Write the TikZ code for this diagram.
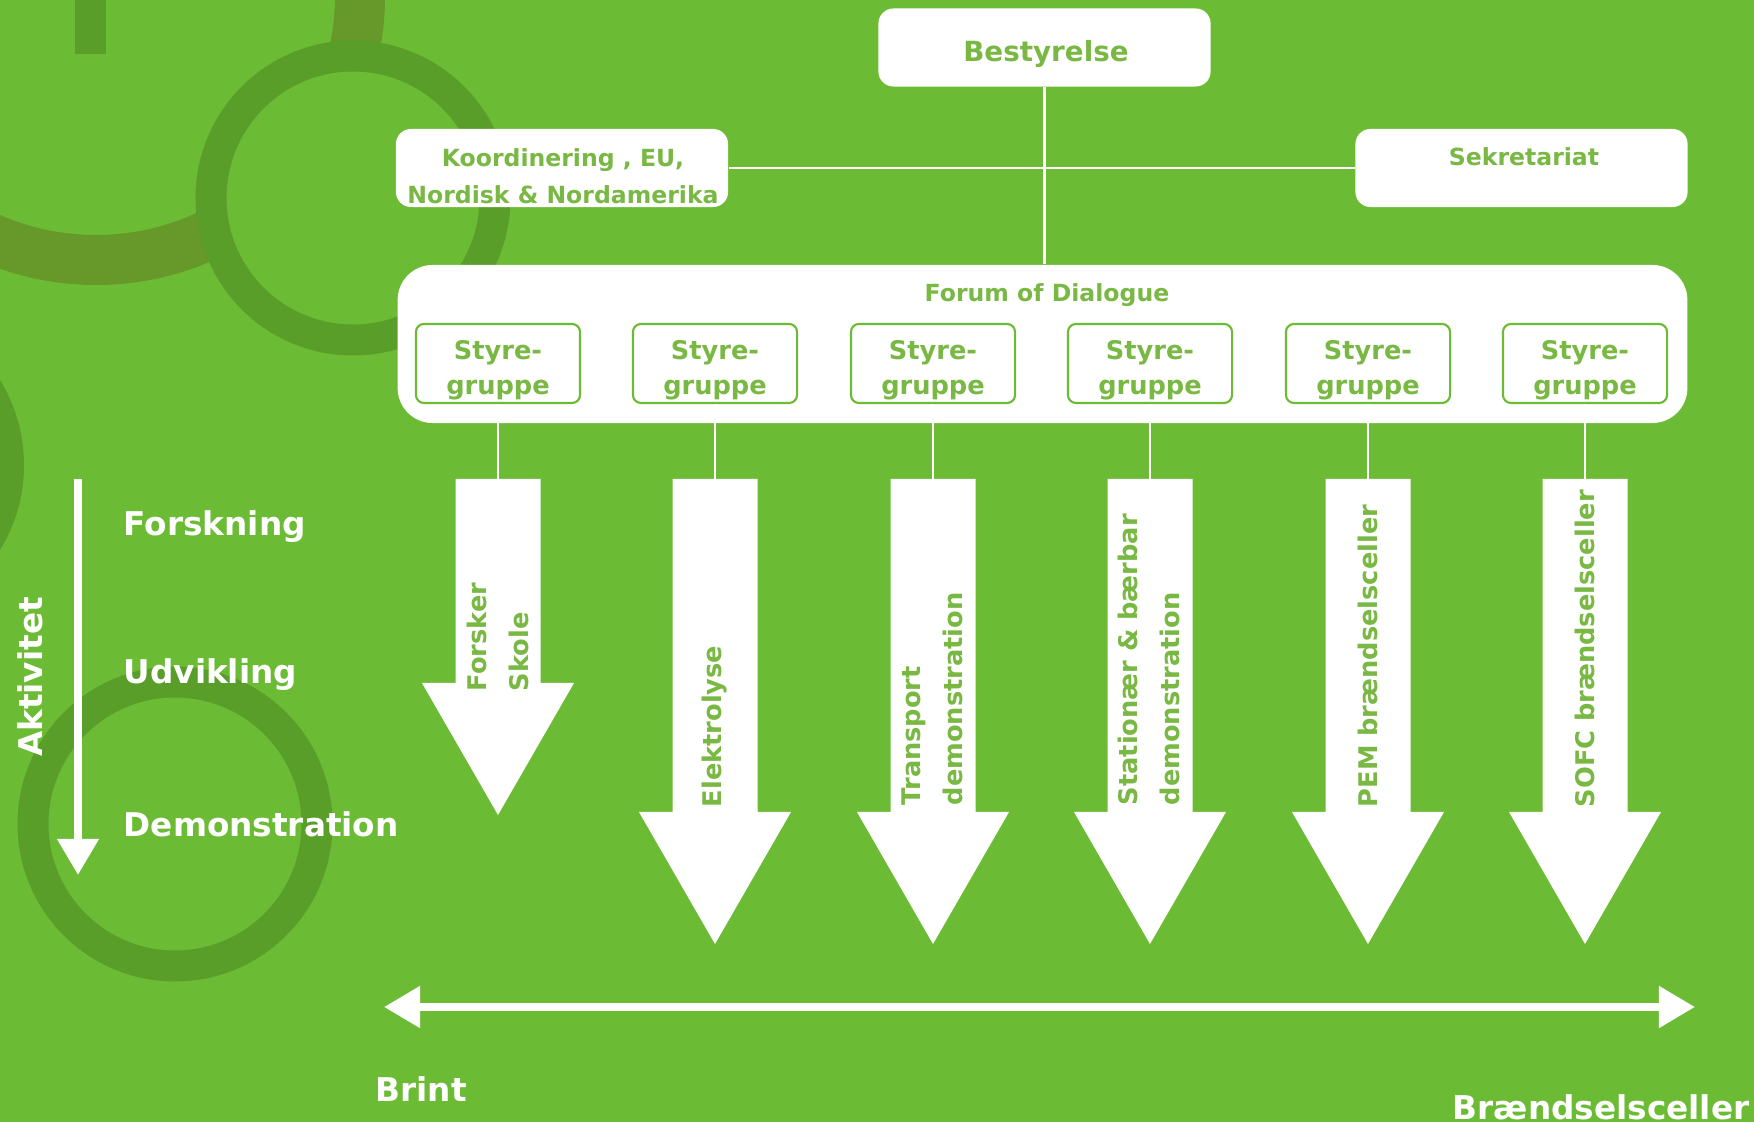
\documentclass[tikz,border=0pt]{standalone}
\usepackage{fontspec}
\setmainfont{DejaVu Sans}
\usetikzlibrary{arrows.meta}
\definecolor{baggrund}{RGB}{108,187,52}
\definecolor{ringfarve}{RGB}{90,158,42}
\definecolor{oliven}{RGB}{103,152,42}
\definecolor{tekstgroen}{RGB}{120,184,67}
\begin{document}
	\begin{tikzpicture}[x=0.01cm, y=-0.01cm,
		boks/.style={fill=white, rounded corners=0.15cm, minimum width=3.32cm, minimum height=0.78cm, inner sep=0pt},
		styreboks/.style={draw=baggrund, line width=0.6pt, fill=white, rounded corners=0.08cm, minimum width=1.64cm, minimum height=0.79cm, inner sep=0pt},
		tekst/.style={text=tekstgroen, inner sep=0pt, align=center, font=\bfseries\fontsize{6.7}{10.5}\selectfont},
		styretekst/.style={tekst, font=\bfseries\fontsize{7.3}{9.9}\selectfont},
		piletekst/.style={tekst, rotate=90, anchor=west, align=left, font=\bfseries\fontsize{7.3}{11.9}\selectfont},
		hvid/.style={text=white, inner sep=0pt, font=\bfseries\fontsize{9.3}{11}\selectfont},
		streg/.style={white, line width=0.6pt},
		pilspids/.style={white, line width=0.075cm, -{Triangle[length=0.36cm, width=0.4cm]}},
		dobbeltpil/.style={white, line width=0.08cm, {Triangle[length=0.36cm, width=0.4cm]}-{Triangle[length=0.36cm, width=0.4cm]}}]
		\useasboundingbox (0, 0) rectangle (1754, 1122);
		\fill[baggrund] (0, 0) rectangle (1754, 1122);
		\fill[ringfarve] (75, 0) rectangle (106, 54);
		\draw[oliven, line width=0.5cm] (96, -4) circle (264);
		\fill[ringfarve] (-138, 465) circle (162);
		\draw[ringfarve, line width=0.31cm, fill=baggrund] (353, 198) circle (142);
		\draw[ringfarve, line width=0.31cm, fill=baggrund] (175, 824) circle (142);

		\node[boks] (best) at (1044.5, 47.5) {};
		\node[boks] (koord) at (562, 168) {};
		\node[boks] (sekr) at (1521.5, 168) {};
		\node[fill=white, rounded corners=0.35cm, minimum width=12.89cm, minimum height=1.58cm, inner sep=0pt] (forum) at (1042.5, 344) {};
		\draw[streg] (best) -- (best |- forum.north);
		\draw[streg] (koord) -- (sekr);

		\node[tekst, font=\bfseries\fontsize{7.9}{9.5}\selectfont] (besttxt) at (1046, 54) {Bestyrelse};
		\node[tekst] (koordtxt) at (563, 176) {Koordinering , EU,\\Nordisk \& Nordamerika};
		\node[tekst] (sekrtxt) at (1524, 157) {Sekretariat};
		\node[tekst] (forumtxt) at (1047, 295) {Forum of Dialogue};

		\foreach \x/\y [count=\i] in {498/683, 715/812, 933/812, 1150/812, 1368/812, 1585/812} {
			\node[styreboks] (s\i) at (\x, 363.5) {};
			\node[styretekst] (g\i) at (\x, 370) {Styre-\\gruppe};
			\fill[white] (\x-42.5, 479) -- (\x+42.5, 479) -- (\x+42.5, \y) -- (\x+76, \y) -- (\x, \y+132) -- (\x-76, \y) -- (\x-42.5, \y) -- cycle;
			\coordinate (p\i) at (\x, 479);
			\draw[streg] (s\i) -- (p\i);
		}
		\node[piletekst] (t1) at (498, 692) {Forsker\\Skole};
		\node[piletekst] (t2) at (715, 808) {Elektrolyse};
		\node[piletekst] (t3) at (932, 806) {Transport\\demonstration};
		\node[piletekst] (t4) at (1149, 806) {Stationær \& bærbar\\demonstration};
		\node[piletekst] (t5) at (1368, 808) {PEM brændselsceller};
		\node[piletekst] (t6) at (1585, 808) {SOFC brændselsceller};

		\coordinate (akttop) at (78, 479);
		\coordinate (aktbund) at (78, 875);
		\draw[pilspids] (akttop) -- (aktbund);
		\node[hvid, rotate=90] (akt) at (30, 677) {Aktivitet};
		\node[hvid, anchor=base west] (forsk) at (123, 536) {Forskning};
		\node[hvid, anchor=base west] (udv) at (123, 684) {Udvikling};
		\node[hvid, anchor=base west] (demo) at (123, 837) {Demonstration};

		\coordinate (venstre) at (384, 1007);
		\coordinate (hoejre) at (1695, 1007);
		\draw[dobbeltpil] (venstre) -- (hoejre);
		\node[hvid, anchor=base west] (brint) at (375, 1101) {Brint};
		\node[hvid, anchor=base west] (celler) at (1452, 1119) {Brændselsceller};
	\end{tikzpicture}
\end{document}
